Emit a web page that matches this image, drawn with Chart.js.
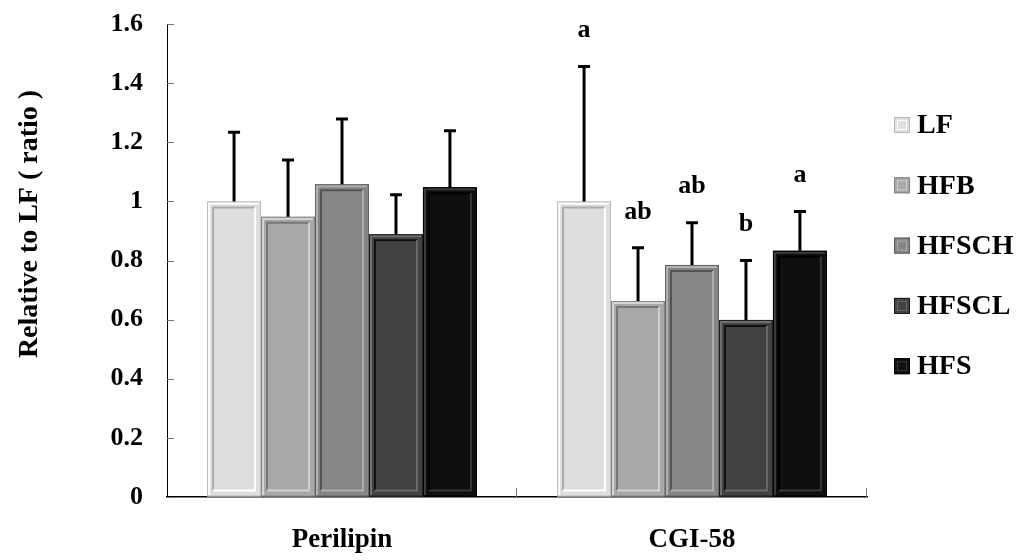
<!DOCTYPE html>
<html>
<head>
<meta charset="utf-8">
<script src="https://cdn.jsdelivr.net/npm/chart.js@4/dist/chart.umd.min.js"></script>
<style>
  html, body { margin: 0; padding: 0; background: #fff; }
  #wrap { width: 1018px; height: 560px; position: relative; }
</style>
</head>
<body>
<div id="wrap"><canvas id="myChart"></canvas></div>
<script>
const categories = ['Perilipin', 'CGI-58'];
const groups = ['LF', 'HFB', 'HFSCH', 'HFSCL', 'HFS'];
const colors = ['#dedede', '#a9a9a9', '#868686', '#424242', '#0f0f0f'];
const lfVals    = [1.00, 1.00];
const hfbVals   = [0.948, 0.663];
const hfschVals = [1.058, 0.785];
const hfsclVals = [0.889, 0.599];
const hfsVals   = [1.048, 0.833];
const lfErr    = [0.234, 0.456];
const hfbErr   = [0.192, 0.180];
const hfschErr = [0.221, 0.143];
const hfsclErr = [0.133, 0.201];
const hfsErr   = [0.191, 0.133];
// significance letters, CGI-58 only
const letters = [['', 'a'], ['', 'ab'], ['', 'ab'], ['', 'b'], ['', 'a']];
const yTicks = [0, 0.2, 0.4, 0.6, 0.8, 1, 1.2, 1.4, 1.6];

const values = [lfVals, hfbVals, hfschVals, hfsclVals, hfsVals];
const errors = [lfErr, hfbErr, hfschErr, hfsclErr, hfsErr];
const FONT = '"Liberation Serif", "Times New Roman", serif';

function shade(hex, amt) {
  const n = parseInt(hex.slice(1), 16);
  let r = (n >> 16) + amt, g = ((n >> 8) & 255) + amt, b = (n & 255) + amt;
  r = Math.max(0, Math.min(255, r)); g = Math.max(0, Math.min(255, g)); b = Math.max(0, Math.min(255, b));
  return `rgb(${r},${g},${b})`;
}

const extras = {
  id: 'extras',
  afterDatasetsDraw(chart) {
    const c = chart.ctx;
    const y = chart.scales.y;
    c.save();
    chart.data.datasets.forEach((ds, di) => {
      chart.getDatasetMeta(di).data.forEach((bar, i) => {
        const left = bar.x - bar.width / 2, right = bar.x + bar.width / 2;
        const top = bar.y, bottom = bar.base;
        // bevel
        const ins = 6;
        c.lineWidth = 2;
        c.strokeStyle = shade(colors[di], 45);
        c.beginPath();
        c.moveTo(left + 2, bottom - 1); c.lineTo(left + 2, top + 2); c.lineTo(right - 2, top + 2);
        c.stroke();
        c.strokeStyle = shade(colors[di], -50);
        c.beginPath();
        c.moveTo(left + ins, bottom - ins); c.lineTo(left + ins, top + ins); c.lineTo(right - ins, top + ins);
        c.stroke();
        c.strokeStyle = shade(colors[di], 40);
        c.beginPath();
        c.moveTo(right - ins, top + ins); c.lineTo(right - ins, bottom - ins); c.lineTo(left + ins, bottom - ins);
        c.stroke();
        c.strokeStyle = shade(colors[di], -35);
        c.lineWidth = 1;
        c.strokeRect(left + 0.5, top + 0.5, bar.width - 1, bottom - top - 1);
        // error bar
        const yt = y.getPixelForValue(ds.data[i] + errors[di][i]);
        c.strokeStyle = '#000';
        c.lineWidth = 3;
        c.beginPath();
        c.moveTo(bar.x, top); c.lineTo(bar.x, yt);
        c.moveTo(bar.x - 6, yt); c.lineTo(bar.x + 6, yt);
        c.stroke();
        if (letters[di][i]) {
          c.fillStyle = '#000';
          c.font = 'bold 26px ' + FONT;
          c.textAlign = 'center';
          c.textBaseline = 'middle';
          c.fillText(letters[di][i], bar.x, yt - 36);
        }
      });
    });
    c.restore();
  },
  afterDraw(chart) {
    const c = chart.ctx;
    const a = chart.chartArea;
    const y = chart.scales.y;
    c.save();
    // inner tick marks
    c.strokeStyle = '#777';
    c.lineWidth = 1;
    c.beginPath();
    yTicks.forEach(v => {
      const py = Math.round(y.getPixelForValue(v)) + 0.5;
      c.moveTo(a.left, py); c.lineTo(a.left + 7, py);
    });
    for (let k = 1; k <= categories.length; k++) {
      const px = Math.round(a.left + (a.right - a.left) * k / categories.length) - 0.5;
      c.moveTo(px, a.bottom); c.lineTo(px, a.bottom - 9);
    }
    c.stroke();
    // y title
    c.fillStyle = '#000';
    c.font = 'bold 28px ' + FONT;
    c.textAlign = 'center';
    c.textBaseline = 'middle';
    c.translate(30, 224);
    c.rotate(-Math.PI / 2);
    c.fillText('Relative to LF ( ratio )', 0, 0);
    c.restore();
    // legend
    c.save();
    c.font = 'bold 28px ' + FONT;
    c.textAlign = 'left';
    c.textBaseline = 'middle';
    groups.forEach((g, i) => {
      const cy = 125 + i * 60.3;
      const bx = 894, s = 16;
      c.fillStyle = colors[i];
      c.fillRect(bx, cy - s / 2, s, s);
      c.strokeStyle = shade(colors[i], -40);
      c.lineWidth = 1;
      c.strokeRect(bx + 0.5, cy - s / 2 + 0.5, s - 1, s - 1);
      c.strokeStyle = shade(colors[i], 40);
      c.strokeRect(bx + 3.5, cy - s / 2 + 3.5, s - 7, s - 7);
      c.fillStyle = '#000';
      c.fillText(g, 917, cy + 1);
    });
    c.restore();
  }
};

const data = {
  labels: categories,
  datasets: groups.map((g, i) => ({
    label: g,
    data: values[i],
    backgroundColor: colors[i],
    borderWidth: 0,
    categoryPercentage: 0.771,
    barPercentage: 1
  }))
};

const config = {
  type: 'bar',
  data: data,
  options: {
    responsive: true,
    maintainAspectRatio: false,
    animation: false,
    layout: { padding: { top: 24, right: 151, left: 0, bottom: 0 } },
    plugins: { legend: { display: false }, tooltip: { enabled: false } },
    scales: {
      y: {
        min: 0, max: 1.6,
        afterFit(scale) { scale.width = 167; },
        afterBuildTicks(scale) { scale.ticks = yTicks.map(v => ({ value: v })); },
        // transparent tick marks give the label gap without extra top padding
        grid: { display: true, drawOnChartArea: false, drawTicks: true, tickLength: 24, color: 'rgba(0,0,0,0)' },
        border: { display: true, color: '#000', width: 1 },
        ticks: {
          padding: 0,
          color: '#000',
          font: { family: FONT, size: 26, weight: 'bold' },
          callback: v => String(v)
        }
      },
      x: {
        afterFit(scale) { scale.height = 63; },
        grid: { display: false, drawTicks: false },
        border: { display: true, color: '#000', width: 1.5 },
        ticks: {
          padding: 27,
          color: '#000',
          font: { family: FONT, size: 27, weight: 'bold' }
        }
      }
    }
  },
  plugins: [extras]
};

const ctx = document.getElementById('myChart');
const chart = new Chart(ctx, config);
</script>
</body>
</html>
